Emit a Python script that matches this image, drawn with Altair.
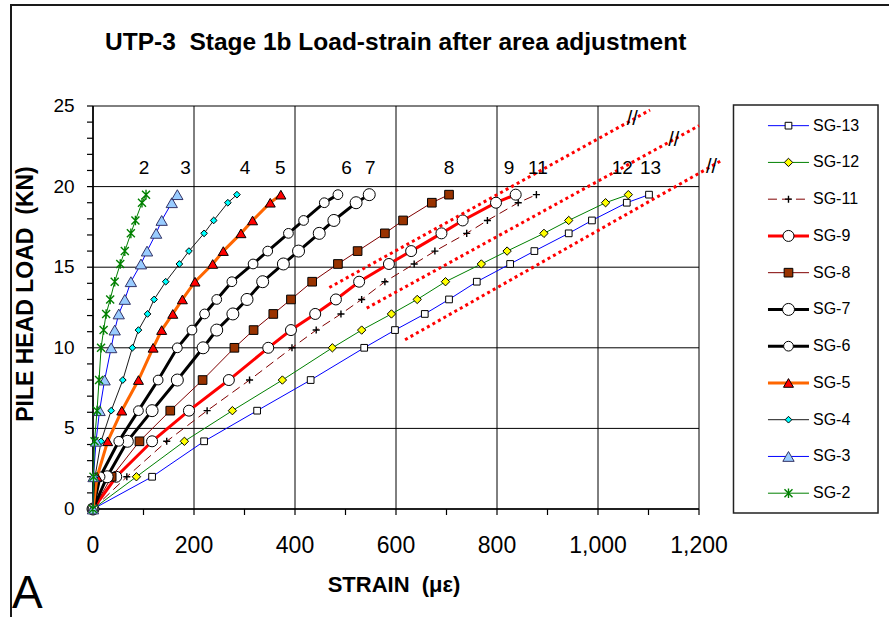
import altair as alt
import pandas as pd

# ---------------- data ----------------
LOAD = [0, 2, 4.2, 6.1, 8, 10, 11.1, 12.1, 13, 14.1, 15.2, 16, 17.1, 17.9, 19, 19.5]

SG13 = [0, 117, 220, 325, 431, 537, 598, 657, 705, 760, 826, 874, 942, 988, 1057, 1101]
SG12 = [0, 86, 181, 276, 375, 474, 532, 591, 642, 698, 769, 820, 893, 942, 1015, 1060]
SG11 = [0, 67, 146, 226, 310, 394, 442, 491, 532, 578, 636, 677, 740, 781, 842, 878]
SG9 = [0, 46, 117, 190, 269, 347, 392, 440, 481, 527, 586, 630, 690, 732, 798, 837]
SG8 = [0, 37, 92, 153, 217, 280, 318, 357, 392, 434, 485, 524, 578, 614, 671, 705]
SG7 = [0, 28, 68, 117, 167, 218, 245, 277, 305, 336, 377, 407, 448, 477, 521, 547]
SG6 = [0, 14, 51, 90, 129, 167, 196, 221, 245, 275, 317, 346, 387, 417, 458, 485]
SG5 = [0, 8, 29, 57, 90, 119, 136, 158, 177, 202, 237, 258, 293, 316, 351, 372]
SG4 = [0, 4, 16, 36, 59, 78, 90, 108, 121, 144, 171, 190, 220, 239, 267, 285]
SG3 = [0, 1, 6, 13, 23, 36, 43, 51, 63, 75, 95, 107, 125, 136, 156, 167]
SG2 = [0, 1, 3, 8, 12, 16, 21, 26, 34, 43, 54, 63, 75, 84, 97, 105]

SERIES_NAMES = ["SG-13", "SG-12", "SG-11", "SG-9", "SG-8", "SG-7", "SG-6",
                "SG-5", "SG-4", "SG-3", "SG-2"]
SERIES_STRAIN = [SG13, SG12, SG11, SG9, SG8, SG7, SG6, SG5, SG4, SG3, SG2]

X_MAJOR = [0, 200, 400, 600, 800, 1000, 1200]
X_LABELS = ["0", "200", "400", "600", "800", "1,000", "1,200"]
X_MINOR = list(range(0, 1201, 100))
Y_MAJOR = [0, 5, 10, 15, 20, 25]
Y_LABELS = ["0", "5", "10", "15", "20", "25"]
Y_MINOR = list(range(0, 26))

LABEL_TEXT = ["2", "3", "4", "5", "6", "7", "8", "9", "11", "12", "13"]
LABEL_STRAIN = [101, 183, 301, 371, 502, 549, 705, 824, 881, 1048, 1104]
LABEL_LOAD = 21.15

BREAK_STRAIN = [1068, 1150, 1225]
BREAK_LOAD = [24.2, 22.9, 21.2]

DOT_STRAIN = [[468, 1103], [542, 1200], [618, 1247]]
DOT_LOAD = [[13.74, 24.75], [12.46, 23.78], [10.5, 21.66]]

TITLE = "UTP-3\u00a0\u00a0Stage 1b Load-strain after area adjustment"
X_TITLE = "STRAIN\u00a0\u00a0(\u03bc\u03b5)"
Y_TITLE = "PILE HEAD LOAD\u00a0\u00a0(KN)"

# ---------------- styles ----------------
FONT = "Liberation Sans"
PLUS = "M-1,0L1,0M0,-1L0,1"
AST = "M-1,-1L1,1M-1,1L1,-1M0,-1.2L0,1.2"

STYLE = {
    "SG-13": dict(line="#0000ff", lw=1, shape="square", fill="#ffffff", stroke="#000000", size=45),
    "SG-12": dict(line="#008000", lw=1, shape="diamond", fill="#ffff00", stroke="#000000", size=70),
    "SG-11": dict(line="#800000", lw=1, dash=[9, 5], shape=PLUS, stroke="#000000", size=50),
    "SG-9": dict(line="#ff0000", lw=3, shape="circle", fill="#ffffff", stroke="#000000", size=121),
    "SG-8": dict(line="#800000", lw=1, shape="square", fill="#993300", stroke="#000000", size=75),
    "SG-7": dict(line="#000000", lw=3, shape="circle", fill="#ffffff", stroke="#000000", size=144),
    "SG-6": dict(line="#000000", lw=3, shape="circle", fill="#ffffff", stroke="#000000", size=95),
    "SG-5": dict(line="#ff6600", lw=3, shape="triangle-up", fill="#ff0000", stroke="#000000", size=100),
    "SG-4": dict(line="#1a1a1a", lw=1, shape="diamond", fill="#00ffff", stroke="#000000", size=45),
    "SG-3": dict(line="#0000ff", lw=1, shape="triangle-up", fill="#99ccff", stroke="#333366", size=128),
    "SG-2": dict(line="#008000", lw=1, shape=AST, stroke="#008000", size=64),
}

# ---------------- tables ----------------
df = pd.DataFrame([
    {"series": n, "strain": s, "load": l}
    for n, xs in zip(SERIES_NAMES, SERIES_STRAIN)
    for s, l in zip(xs, LOAD)
])

labels_df = pd.DataFrame({"txt": LABEL_TEXT, "strain": LABEL_STRAIN,
                          "load": [LABEL_LOAD] * len(LABEL_TEXT)})
breaks_df = pd.DataFrame({"txt": ["//"] * 3, "strain": BREAK_STRAIN, "load": BREAK_LOAD})
dots_df = pd.DataFrame([
    {"id": i, "strain": s, "load": l}
    for i, (xs, ys) in enumerate(zip(DOT_STRAIN, DOT_LOAD))
    for s, l in zip(xs, ys)
])
xgrid_df = pd.DataFrame({"strain": X_MAJOR, "txt": X_LABELS})
ygrid_df = pd.DataFrame({"load": Y_MAJOR, "txt": Y_LABELS})
xminor_df = pd.DataFrame({"strain": X_MINOR})
yminor_df = pd.DataFrame({"load": Y_MINOR})
origin_df = pd.DataFrame({"strain": [0], "load": [0]})

# legend layout (in data units of the shared scales)
LEG_TOP, LEG_STEP = 23.78, 2.28
legend_df = pd.DataFrame({
    "series": SERIES_NAMES,
    "ly": [LEG_TOP - LEG_STEP * i for i in range(len(SERIES_NAMES))],
})
legend_df["lx0"] = 1336.6
legend_df["lx1"] = 1417.8
legend_df["lxm"] = 1377.2
legend_df["lxt"] = 1425.7
box_df = pd.DataFrame({"bx0": [1268.3], "bx1": [1554.5], "by0": [25.06], "by1": [-0.25]})
one = pd.DataFrame({"k": [0]})

PW, PH = 606, 403
xscale = alt.Scale(domain=[0, 1200], nice=False, zero=False)
yscale = alt.Scale(domain=[0, 25], nice=False, zero=False)

X = lambda f: alt.X(f, scale=xscale, axis=None)
Y = lambda f: alt.Y(f, scale=yscale, axis=None)

layers = []

# grid lines at the major ticks
layers.append(alt.Chart(xgrid_df).mark_rule(color="black", strokeWidth=1).encode(x=X("strain:Q")))
layers.append(alt.Chart(ygrid_df).mark_rule(color="black", strokeWidth=1).encode(y=Y("load:Q")))
# axis lines
layers.append(alt.Chart(origin_df).mark_rule(color="black", strokeWidth=1.6).encode(x=X("strain:Q")))
layers.append(alt.Chart(origin_df).mark_rule(color="black", strokeWidth=1.6).encode(y=Y("load:Q")))
# tick marks (outside)
layers.append(alt.Chart(xminor_df).mark_rule(color="black", strokeWidth=1.2).encode(
    x=X("strain:Q"), y=alt.value(PH), y2=alt.value(PH + 6)))
layers.append(alt.Chart(yminor_df).mark_rule(color="black", strokeWidth=1.2).encode(
    y=Y("load:Q"), x=alt.value(-6), x2=alt.value(0)))
# tick labels
layers.append(alt.Chart(xgrid_df).mark_text(font=FONT, fontSize=23, color="black", align="center",
                                            baseline="top").encode(
    x=X("strain:Q"), y=alt.value(PH + 25.7), text="txt:N"))
layers.append(alt.Chart(ygrid_df).mark_text(font=FONT, fontSize=19, color="black", align="right",
                                            baseline="middle").encode(
    y=Y("load:Q"), x=alt.value(-18.4), text="txt:N"))
# axis titles
layers.append(alt.Chart(one).mark_text(text=X_TITLE, font=FONT, fontSize=22, fontWeight="bold",
                                       color="black", align="center", baseline="alphabetic").encode(
    x=alt.value(301), y=alt.value(486)))
layers.append(alt.Chart(one).mark_text(text=Y_TITLE, font=FONT, fontSize=23, fontWeight="bold",
                                       color="black", align="center", baseline="alphabetic",
                                       angle=270).encode(
    x=alt.value(-59.7), y=alt.value(188)))


def point_mark(st):
    if "fill" in st:
        return dict(shape=st["shape"], filled=True, color=st["fill"], fill=st["fill"],
                    stroke=st["stroke"], strokeWidth=1, size=st["size"], opacity=1)
    return dict(shape=st["shape"], filled=False, color=st["stroke"], stroke=st["stroke"],
                strokeWidth=1.4, size=st["size"], opacity=1)


def line_mark(st):
    kw = dict(color=st["line"], strokeWidth=st["lw"])
    if "dash" in st:
        kw["strokeDash"] = st["dash"]
    return kw


# series: line then markers, in legend order (SG-2 on top)
for name in SERIES_NAMES:
    st = STYLE[name]
    base = alt.Chart(df).transform_filter(alt.datum.series == name)
    layers.append(base.mark_line(**line_mark(st)).encode(
        x=X("strain:Q"), y=Y("load:Q"), order=alt.Order("load:Q")))
    layers.append(base.mark_point(**point_mark(st)).encode(x=X("strain:Q"), y=Y("load:Q")))

# red dotted guide lines
layers.append(
    alt.Chart(dots_df).mark_line(color="#ff0000", strokeWidth=3, strokeDash=[3, 3.3], clip=False).encode(
        x=X("strain:Q"), y=Y("load:Q"), detail="id:N")
)

# gauge numbers
layers.append(
    alt.Chart(labels_df).mark_text(font=FONT, fontSize=19, color="black", align="center",
                                   baseline="middle").encode(
        x=X("strain:Q"), y=Y("load:Q"), text="txt:N")
)
# break marks
layers.append(
    alt.Chart(breaks_df).mark_text(font=FONT, fontSize=20, color="black", align="center",
                                   baseline="middle", clip=False).encode(
        x=X("strain:Q"), y=Y("load:Q"), text="txt:N")
)

# legend box
layers.append(
    alt.Chart(box_df).mark_rect(fill="white", stroke="#222222", strokeWidth=1.5, clip=False).encode(
        x=X("bx0:Q"), x2="bx1:Q", y=Y("by0:Q"), y2="by1:Q")
)
for name in SERIES_NAMES:
    st = STYLE[name]
    lb = alt.Chart(legend_df).transform_filter(alt.datum.series == name)
    layers.append(lb.mark_rule(clip=False, **line_mark(st)).encode(
        x=X("lx0:Q"), x2="lx1:Q", y=Y("ly:Q")))
    layers.append(lb.mark_point(clip=False, **point_mark(st)).encode(
        x=X("lxm:Q"), y=Y("ly:Q")))
layers.append(
    alt.Chart(legend_df).mark_text(font=FONT, fontSize=16, color="black", align="left",
                                   baseline="middle", clip=False).encode(
        x=X("lxt:Q"), y=Y("ly:Q"), text="series:N")
)

# title, panel letter, outer frame
layers.append(
    alt.Chart(one).mark_text(text=TITLE, font=FONT, fontSize=24.5, fontWeight="bold", color="black",
                             align="left", baseline="alphabetic").encode(
        x=alt.value(12), y=alt.value(-56))
)
layers.append(
    alt.Chart(one).mark_text(text="A", font=FONT, fontSize=46, color="black",
                             align="left", baseline="alphabetic").encode(
        x=alt.value(-81), y=alt.value(502))
)
layers.append(
    alt.Chart(one).mark_rule(color="#1a1a1a", strokeWidth=2).encode(
        x=alt.value(-83), x2=alt.value(800), y=alt.value(-101))
)
layers.append(
    alt.Chart(one).mark_rule(color="#1a1a1a", strokeWidth=2).encode(
        x=alt.value(-82), y=alt.value(-102), y2=alt.value(520))
)

chart = alt.layer(*layers).properties(
    width=PW, height=PH,
    autosize=alt.AutoSizeParams(type="none"),
    padding={"left": 93, "top": 106, "right": 190, "bottom": 108},
    background="white",
).configure_view(strokeWidth=0)

chart.save("out.html", embed_options={"renderer": "svg", "actions": False})
